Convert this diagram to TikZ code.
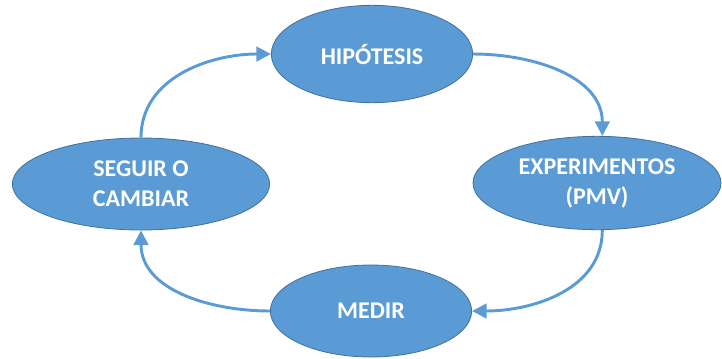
\documentclass[tikz,border=0pt]{standalone}
\usepackage{fontspec}
\setmainfont{Carlito}
\usetikzlibrary{shapes.geometric,arrows.meta}
\definecolor{ovalblue}{HTML}{5B9BD5}
\definecolor{ovalline}{HTML}{41719C}
\tikzset{
  oval/.style={ellipse,fill=ovalblue,draw=ovalline,line width=0.6pt,text=white,
    font=\fontsize{18}{22.5}\selectfont\bfseries,align=center,inner sep=0pt},
  flow/.style={draw=ovalblue,line width=2.2pt,-{Triangle[length=11pt,width=11pt]}}
}
\begin{document}
\begin{tikzpicture}[x=0.75pt,y=-0.75pt]
\useasboundingbox (0,0) rectangle (722,358);

%ovals
\node[oval,minimum width=151pt,minimum height=73pt] (hip) at (372,54) {HIPÓTESIS};
\node[oval,minimum width=186pt,minimum height=70pt] (exp) at (597,183) {EXPERIMENTOS\\(PMV)};
\node[oval,minimum width=151pt,minimum height=69pt] (med) at (371,311) {MEDIR};
\node[oval,minimum width=193pt,minimum height=69pt] (seg) at (141,184) {SEGUIR O\\CAMBIAR};

%cycle
\draw[flow] (hip.east) to[out=0,in=90] ([xshift=4pt]exp.north);
\draw[flow] ([xshift=4pt]exp.south) to[out=-90,in=0] (med.east);
\draw[flow] (med.west) to[out=180,in=-90] (seg.south);
\draw[flow] (seg.north) to[out=90,in=180] (hip.west);
\end{tikzpicture}
\end{document}
